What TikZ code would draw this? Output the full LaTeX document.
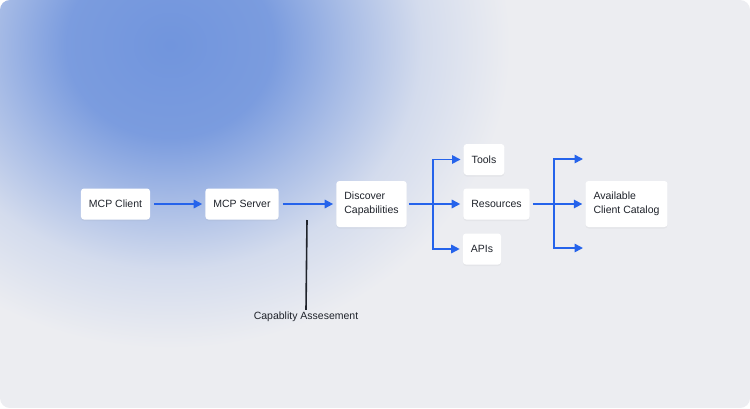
\documentclass[tikz,border=0pt]{standalone}
\usepackage{fontspec}
\setmainfont{Liberation Sans}
\usetikzlibrary{arrows.meta, shadows}

\definecolor{bggray}{HTML}{ECEDF1}
\definecolor{blobblue}{HTML}{7195DD}
\definecolor{flowblue}{HTML}{2563EB}
\definecolor{inkdark}{HTML}{1F232B}

\pgfdeclareradialshading{blob}{\pgfpoint{0bp}{0bp}}{color(0bp)=(blobblue); color(7bp)=(blobblue!92!bggray); color(12bp)=(blobblue!55!bggray); color(17bp)=(blobblue!20!bggray); color(23bp)=(bggray); color(50bp)=(bggray)}

\begin{document}
\begin{tikzpicture}[x=1pt, y=-1pt,
	box/.style={fill=white, rounded corners=3pt, inner xsep=8pt,
		minimum height=31pt, text=inkdark, align=left,
		font=\fontsize{10.5}{14}\selectfont,
		drop shadow={opacity=0.07, shadow xshift=0pt, shadow yshift=-1.5pt}},
	tall/.style={box, minimum height=46pt},
	flow/.style={draw=flowblue, line width=1.6pt,
		-{Triangle[length=8.5pt, width=8.5pt]}, shorten >=3pt},
	branch/.style={draw=flowblue, line width=1.6pt}]

	% background
	\useasboundingbox (0,0) rectangle (750,408);
	\fill[white] (0,0) rectangle (750,408);
	\begin{scope}
		\clip[rounded corners=10pt] (0,0) rectangle (750,408);
		\fill[bggray] (0,0) rectangle (750,408);
		\shade[shading=blob] (170,45) ellipse [x radius=370, y radius=330];
	\end{scope}

	% steps
	\node[box]  (client)    at (115.5,204) {MCP Client};
	\node[box]  (server)    at (242,204)   {MCP Server};
	\node[tall] (discover)  at (371.5,204) {Discover\\Capabilities};
	\node[box]  (tools)     at (484,159.5) {Tools};
	\node[box]  (resources) at (496.5,204) {Resources};
	\node[box]  (apis)      at (482,249)   {APIs};
	\node[tall] (catalog)   at (626.5,204) {Available\\Client Catalog};

	\node[text=inkdark, inner sep=2pt, font=\fontsize{10.5}{14}\selectfont]
		(assess) at (306,317) {Capablity Assesement};

	% branch points
	\coordinate (splitL)  at (433,204);
	\coordinate (splitR)  at (554,204);
	\coordinate (outTop)  at (583,159);
	\coordinate (outBot)  at (583,248);
	\coordinate (assessTop) at (307,220);

	% connectors
	\draw[flow, shorten <=4pt] (client) -- (server);
	\draw[flow, shorten <=4pt] (server) -- (discover);
	\draw[flow, shorten <=2pt] (discover) -- (resources);
	\draw[flow] (splitL |- apis) |- (tools);
	\draw[flow] (splitL |- tools) |- (apis);
	\draw[flow, shorten <=3pt] (resources) -- (catalog);
	\draw[flow, shorten >=0pt] (splitR |- outBot) |- (outTop);
	\draw[flow, shorten >=0pt] (splitR |- outTop) |- (outBot);

	\draw[inkdark, line width=1.6pt] (assessTop) -- (assess.north);
\end{tikzpicture}
\end{document}
